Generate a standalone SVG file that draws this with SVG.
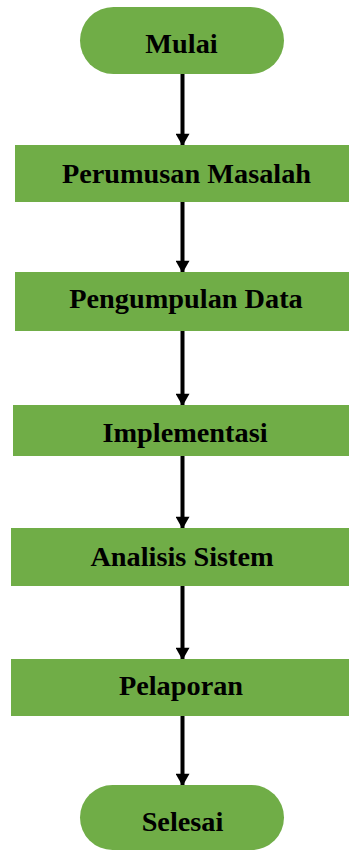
<svg xmlns="http://www.w3.org/2000/svg" width="349" height="852" viewBox="0 0 349 852">
<defs>
<style>
.n{fill:#70AD47;}
.t{font-family:"Liberation Serif","Times New Roman",serif;font-weight:bold;font-size:28.3px;fill:#000;text-anchor:middle;}
.c{stroke:#000;stroke-width:4;fill:none;}
</style>
<marker id="ah" markerUnits="userSpaceOnUse" markerWidth="16" markerHeight="14" refX="13" refY="8" orient="auto" viewBox="0 0 14 16">
<path d="M0,0 L14,8 L0,16 Z" fill="#000"/>
</marker>
</defs>
<rect width="349" height="852" fill="#fff"/>
<g id="connectors">
<line class="c" x1="182.5" y1="74" x2="182.5" y2="145" marker-end="url(#ah)"/>
<line class="c" x1="182.5" y1="202" x2="182.5" y2="272" marker-end="url(#ah)"/>
<line class="c" x1="182.5" y1="331" x2="182.5" y2="405" marker-end="url(#ah)"/>
<line class="c" x1="182.5" y1="456" x2="182.5" y2="528" marker-end="url(#ah)"/>
<line class="c" x1="182.5" y1="586" x2="182.5" y2="659" marker-end="url(#ah)"/>
<line class="c" x1="182.5" y1="716" x2="182.5" y2="785" marker-end="url(#ah)"/>
</g>
<g id="mulai">
<rect class="n" x="80" y="7" width="204" height="67" rx="33.5"/>
<text class="t" x="181.5" y="53">Mulai</text>
</g>
<g id="perumusan">
<rect class="n" x="15" y="145" width="334" height="57"/>
<text class="t" x="186.5" y="183">Perumusan Masalah</text>
</g>
<g id="pengumpulan">
<rect class="n" x="15" y="272" width="334" height="59"/>
<text class="t" x="186" y="308">Pengumpulan Data</text>
</g>
<g id="implementasi">
<rect class="n" x="13" y="405" width="336" height="51"/>
<text class="t" x="185" y="442">Implementasi</text>
</g>
<g id="analisis">
<rect class="n" x="11" y="528" width="338" height="58"/>
<text class="t" x="182" y="566">Analisis Sistem</text>
</g>
<g id="pelaporan">
<rect class="n" x="11" y="659" width="338" height="57"/>
<text class="t" x="181" y="695">Pelaporan</text>
</g>
<g id="selesai">
<rect class="n" x="80" y="785" width="204" height="65" rx="32.5"/>
<text class="t" x="182.5" y="831">Selesai</text>
</g>
</svg>
